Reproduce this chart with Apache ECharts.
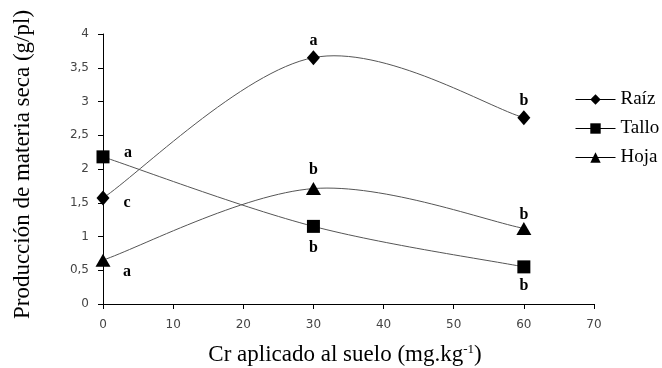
<!DOCTYPE html>
<html>
<head>
<meta charset="utf-8">
<script src="https://cdn.jsdelivr.net/npm/echarts@6/dist/echarts.min.js"></script>
<style>
  html, body { margin: 0; padding: 0; background: #fff; }
  #chart { width: 662px; height: 368px; }
</style>
</head>
<body>
<div id="chart"></div>
<script>
const doses = [0, 30, 60];
const raiz = [1.57, 3.65, 2.76];
const tallo = [2.18, 1.15, 0.55];
const hoja = [0.65, 1.71, 1.12];
// significance letters for each point
const raizLetters = ['c', 'a', 'b'];
const talloLetters = ['a', 'b', 'b'];
const hojaLetters = ['a', 'b', 'b'];
const seriesNames = ['Raíz', 'Tallo', 'Hoja'];
const yTicks = ['0', '0,5', '1', '1,5', '2', '2,5', '3', '3,5', '4'];

const serif = 'Liberation Serif';
const curveColor = '#555';

// where each letter sits relative to its marker (pixels)
function points(values, letters, offsets) {
  return values.map(function (v, i) {
    return {
      value: [doses[i], v],
      label: {
        show: true,
        formatter: letters[i],
        position: 'inside',
        offset: offsets[i],
        fontFamily: serif,
        fontWeight: 'bold',
        fontSize: 16,
        color: '#000'
      }
    };
  });
}

// markers + letters; the curve itself is drawn by the custom series below
function markerSeries(name, symbol, size, data) {
  return {
    name: name,
    type: 'line',
    symbol: symbol,
    symbolSize: size,
    z: 3,
    itemStyle: { color: '#000' },
    lineStyle: { width: 0, opacity: 0 },
    data: data
  };
}

// spreadsheet style smoothed curve: cubic bezier per segment,
// control points at 1/6 of the neighbour chord
function curveSeries(values) {
  return {
    type: 'custom',
    z: 2,
    silent: true,
    data: doses.map(function (d, i) { return [d, values[i]]; }),
    renderItem: function (params, api) {
      const i = params.dataIndex;
      if (i >= doses.length - 1) return null;
      const pt = function (j) {
        j = Math.max(0, Math.min(doses.length - 1, j));
        return api.coord([doses[j], values[j]]);
      };
      const p0 = pt(i - 1), p1 = pt(i), p2 = pt(i + 1), p3 = pt(i + 2);
      const c1 = [p1[0] + (p2[0] - p0[0]) / 6, p1[1] + (p2[1] - p0[1]) / 6];
      const c2 = [p2[0] - (p3[0] - p1[0]) / 6, p2[1] - (p3[1] - p1[1]) / 6];
      return {
        type: 'bezierCurve',
        shape: { x1: p1[0], y1: p1[1], cpx1: c1[0], cpy1: c1[1], cpx2: c2[0], cpy2: c2[1], x2: p2[0], y2: p2[1] },
        style: { stroke: curveColor, lineWidth: 1, fill: null }
      };
    }
  };
}

const chart = echarts.init(document.getElementById('chart'));
chart.setOption({
  animation: false,
  textStyle: { fontFamily: serif },
  grid: { left: 103, right: 68, top: 34, bottom: 64, outerBoundsMode: 'none' },
  legend: {
    orient: 'vertical',
    left: 570,
    top: 85,
    itemGap: 10,
    itemWidth: 40,
    itemHeight: 13,
    lineStyle: { color: '#000', width: 1, opacity: 1 },
    textStyle: { fontFamily: serif, fontSize: 19, color: '#000' },
    data: seriesNames
  },
  xAxis: {
    type: 'value',
    min: 0, max: 70, interval: 10,
    name: '{t|Cr aplicado al suelo (mg.kg}{s|-1}{t|)}',
    nameLocation: 'middle',
    nameGap: 39,
    nameTextStyle: {
      padding: [0, 7, 0, 0],
      rich: {
        t: { fontFamily: serif, fontSize: 23, color: '#000' },
        s: { fontFamily: serif, fontSize: 13, color: '#000', verticalAlign: 'top', padding: [0, 0, 10, 0] }
      }
    },
    splitLine: { show: false },
    axisLine: { lineStyle: { color: '#000', width: 1 } },
    axisTick: { show: true, length: 5, lineStyle: { color: '#000' } },
    axisLabel: { fontFamily: 'DejaVu Sans', fontSize: 12, color: '#444', margin: 15 }
  },
  yAxis: {
    type: 'value',
    min: 0, max: 4, interval: 0.5,
    name: 'Producción de materia seca (g/pl)',
    nameLocation: 'middle',
    nameGap: 69,
    nameTextStyle: { fontFamily: serif, fontSize: 23, color: '#000', padding: [0, 0, 0, 9] },
    splitLine: { show: false },
    axisLine: { show: true, lineStyle: { color: '#000', width: 1 } },
    axisTick: { show: true, length: 5, lineStyle: { color: '#000' } },
    axisLabel: {
      fontFamily: 'DejaVu Sans', fontSize: 12, color: '#444', margin: 14,
      formatter: function (v) { return yTicks[Math.round(v * 2)]; }
    }
  },
  series: [
    curveSeries(raiz),
    curveSeries(tallo),
    curveSeries(hoja),
    markerSeries(seriesNames[0], 'diamond', [13, 15], points(raiz, raizLetters,
      [[24, 5], [0, -17], [0, -17]])),
    markerSeries(seriesNames[1], 'rect', 13, points(tallo, talloLetters,
      [[25, -4], [0, 21], [0, 19]])),
    markerSeries(seriesNames[2], 'triangle', [15, 13], points(hoja, hojaLetters,
      [[24, 12], [0, -19], [0, -14]]))
  ]
});
</script>
</body>
</html>
